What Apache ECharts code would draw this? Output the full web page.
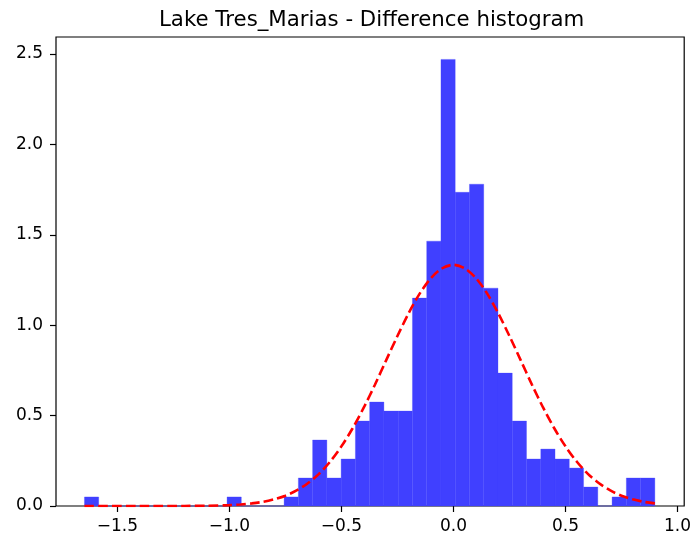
<!DOCTYPE html>
<html>
<head>
<meta charset="utf-8">
<script src="https://cdn.jsdelivr.net/npm/echarts@6/dist/echarts.min.js"></script>
<style>
  html, body { margin: 0; padding: 0; background: #fff; }
  #chart { width: 694px; height: 537px; }
</style>
</head>
<body>
<div id="chart"></div>
<script>
// Histogram of differences (density), 40 equal-width bins
const binStart = -1.647;
const binWidth = 0.06365;
const binDensity = [
  0.05, 0, 0, 0, 0, 0, 0, 0, 0, 0,
  0.05, 0, 0, 0, 0.05, 0.155, 0.365, 0.155, 0.26, 0.47,
  0.575, 0.525, 0.525, 1.15, 1.465, 2.47, 1.735, 1.78, 1.205, 0.735,
  0.47, 0.26, 0.315, 0.26, 0.21, 0.105, 0, 0.05, 0.155, 0.155
];

// Fitted normal density curve
const fitX = [
  -1.647, -1.4, -1.2, -1.1, -1.0, -0.95, -0.9, -0.85, -0.8, -0.75, -0.7, -0.65,
  -0.6, -0.55, -0.5, -0.45, -0.4, -0.35, -0.3, -0.25, -0.2, -0.15, -0.1, -0.05,
  0, 0.05, 0.1, 0.15, 0.2, 0.25, 0.3, 0.35, 0.4, 0.45, 0.5, 0.55,
  0.6, 0.65, 0.7, 0.75, 0.8, 0.85, 0.899
];
const fitY = [
  0, 0, 0.0004, 0.0015, 0.005, 0.0086, 0.0144, 0.023, 0.037, 0.057, 0.086, 0.126,
  0.178, 0.246, 0.330, 0.430, 0.545, 0.672, 0.807, 0.940, 1.066, 1.176, 1.261, 1.315,
  1.334, 1.315, 1.261, 1.176, 1.066, 0.940, 0.807, 0.672, 0.545, 0.430, 0.330, 0.246,
  0.178, 0.126, 0.086, 0.057, 0.037, 0.023, 0.0145
];

const xTicks = [-1.5, -1.0, -0.5, 0.0, 0.5, 1.0];
const yTicks = [0.0, 0.5, 1.0, 1.5, 2.0, 2.5];

const titleText = 'Lake Tres_Marias - Difference histogram';

const histData = binDensity.map((h, i) => [binStart + i * binWidth, binStart + (i + 1) * binWidth, h]);
const fitData = fitX.map((x, i) => [x, fitY[i]]);

const fmt = v => {
  const s = Math.abs(v).toFixed(1);
  return v < 0 ? '\u2212' + s : s;
};

const font = 'DejaVu Sans';

const chart = echarts.init(document.getElementById('chart'), null, { renderer: 'canvas' });
chart.setOption({
  animation: false,
  backgroundColor: '#ffffff',
  tooltip: { show: false },
  title: {
    text: titleText,
    left: 154,
    top: 5,
    textStyle: { fontFamily: font, fontSize: 21.3, fontWeight: 'normal', color: '#000' }
  },
  grid: {
    left: 56, right: 7, top: 37, bottom: 31,
    show: true, borderColor: '#000', borderWidth: 1.2, backgroundColor: 'transparent'
  },
  xAxis: {
    type: 'value',
    min: -1.774,
    max: 1.030,
    splitLine: { show: false },
    axisLine: { show: false, onZero: false },
    axisPointer: { show: false },
    axisTick: { show: true, length: 6, customValues: xTicks, lineStyle: { color: '#000', width: 1.2 } },
    axisLabel: {
      customValues: xTicks,
      formatter: fmt,
      margin: 12,
      fontFamily: font, fontSize: 17, color: '#000'
    }
  },
  yAxis: {
    type: 'value',
    min: 0,
    max: 2.594,
    splitLine: { show: false },
    axisLine: { show: false, onZero: false },
    axisPointer: { show: false },
    axisTick: { show: true, length: 6, customValues: yTicks, lineStyle: { color: '#000', width: 1.2 } },
    axisLabel: {
      customValues: yTicks,
      formatter: fmt,
      margin: 13,
      fontFamily: font, fontSize: 17, color: '#000'
    }
  },
  series: [
    {
      type: 'custom',
      z: 2,
      data: histData,
      encode: { x: [0, 1], y: 2 },
      renderItem: function (params, api) {
        const top = api.coord([api.value(0), api.value(2)]);
        const bot = api.coord([api.value(1), 0]);
        return {
          type: 'rect',
          shape: { x: top[0], y: top[1], width: bot[0] - top[0], height: bot[1] - top[1] },
          style: { fill: '#4040ff', stroke: '#4040ff', lineWidth: 0.3 }
        };
      }
    },
    {
      type: 'line',
      z: 3,
      data: fitData,
      smooth: 0.3,
      showSymbol: false,
      lineStyle: { color: '#ff0000', width: 2.6, type: [9.6, 4.2] }
    }
  ]
});
</script>
</body>
</html>
